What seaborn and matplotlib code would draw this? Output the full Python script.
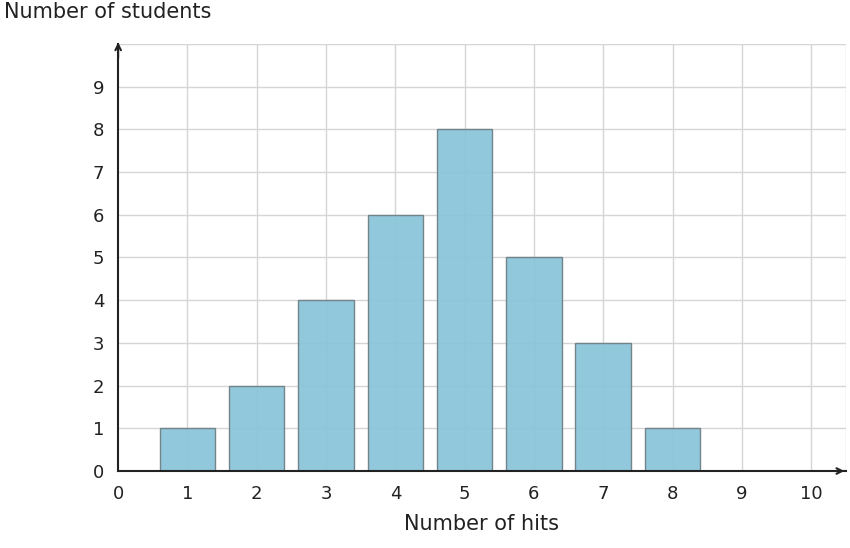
import numpy as np
import pandas as pd
import matplotlib
matplotlib.use("Agg")
import matplotlib.pyplot as plt
import seaborn as sns

hits = [1, 2, 3, 4, 5, 6, 7, 8]
students = [1, 2, 4, 6, 8, 5, 3, 1]
x_ticks = list(range(0, 11))
y_ticks = list(range(0, 10))

sns.set_style("white")
plt.rcParams['font.family'] = ['DejaVu Sans']

fig = plt.figure(figsize=(8.5, 5.48), dpi=100)
ax = fig.add_axes([0.139, 0.1405, 0.856, 0.7795])

df = pd.DataFrame({"hits": hits, "students": students})
sns.barplot(data=df, x="hits", y="students", native_scale=True, width=0.8,
            color="#7ecbe6", edgecolor="#6f7f86", linewidth=1.0, alpha=0.95,
            ax=ax, zorder=3)

ax.set_xlim(0, 10.5)
ax.set_ylim(0, 10)
ax.set_xticks(x_ticks)
ax.set_yticks(y_ticks)
for v in range(1, 11):
    ax.axvline(v, color="#d5d5d5", lw=1, zorder=0)
for v in range(1, 11):
    ax.axhline(v, color="#d5d5d5", lw=1, zorder=0)
ax.axvline(10.5, color="#d5d5d5", lw=1, zorder=0)

for s in ["top", "right"]:
    ax.spines[s].set_visible(False)
for s in ["left", "bottom"]:
    ax.spines[s].set_color("#222222")
    ax.spines[s].set_linewidth(1.5)
    ax.spines[s].set_zorder(4)

ax.annotate("", xy=(10.52, 0), xytext=(10.3, 0),
            arrowprops=dict(arrowstyle="->", color="#222222", lw=1.5),
            annotation_clip=False, zorder=5)
ax.annotate("", xy=(0, 10.1), xytext=(0, 9.6),
            arrowprops=dict(arrowstyle="->", color="#222222", lw=1.5),
            annotation_clip=False, zorder=5)

ax.tick_params(axis="x", direction="inout", length=8, width=1.2, color="#444444",
               labelsize=13, labelcolor="#222222", pad=6)
ax.tick_params(axis="y", direction="out", length=6, width=1.2, color="#444444",
               labelsize=13, labelcolor="#222222", pad=4)
ax.set_xlabel("Number of hits", fontsize=15, color="#222222", labelpad=8)
ax.set_ylabel("")
fig.text(0.005, 0.978, "Number of students", fontsize=15, color="#222222",
         ha="left", va="center")

fig.savefig("out.png", dpi=100)
